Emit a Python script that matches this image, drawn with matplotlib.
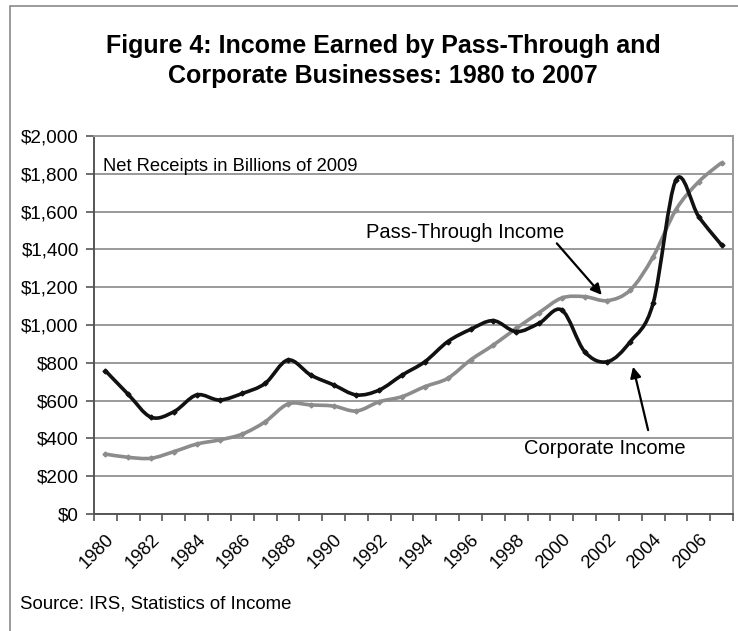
import numpy as np
import matplotlib
matplotlib.use('Agg')
import matplotlib.pyplot as plt
from matplotlib.path import Path
from matplotlib.patches import PathPatch, Rectangle

plt.rcParams['font.family'] = ['Liberation Sans', 'DejaVu Sans']

years = list(range(1980, 2008))
corporate = [758, 633, 512, 541, 630, 603, 638, 691, 815, 735, 683, 630, 656,
             735, 806, 912, 977, 1023, 965, 1009, 1079, 859, 806, 912, 1115,
             1767, 1573, 1423]
pass_through = [317, 300, 295, 330, 370, 392, 423, 488, 582, 577, 571, 545, 594,
                621, 674, 718, 815, 894, 982, 1065, 1143, 1150, 1129, 1185, 1361,
                1610, 1758, 1859]
tick_years = [str(y) for y in range(1980, 2007, 2)]
y_ticks = list(range(0, 2001, 200))


def smooth_path(xs, ys, k=1 / 6):
    # Catmull-Rom style cubic Bezier through every point (like a smoothed Excel line)
    xs = np.asarray(xs, float)
    ys = np.asarray(ys, float)
    verts = [(xs[0], ys[0])]
    codes = [Path.MOVETO]
    n = len(xs)
    for i in range(n - 1):
        p0 = i - 1 if i > 0 else i
        p3 = i + 2 if i + 2 < n else i + 1
        c1 = (xs[i] + (xs[i + 1] - xs[p0]) * k, ys[i] + (ys[i + 1] - ys[p0]) * k)
        c2 = (xs[i + 1] - (xs[p3] - xs[i]) * k, ys[i + 1] - (ys[p3] - ys[i]) * k)
        verts += [c1, c2, (xs[i + 1], ys[i + 1])]
        codes += [Path.CURVE4] * 3
    return Path(verts, codes)


fig = plt.figure(figsize=(7.38, 6.31), dpi=100)
fig.patch.set_facecolor('white')
fig.patches.append(Rectangle((10 / 738, -0.05), 1.2, 1.04, transform=fig.transFigure,
                             fill=False, edgecolor='#8a8a8a', lw=1.2))

ax = fig.add_axes([94 / 738, 117 / 631, 639 / 738, 378 / 631])
x = np.arange(len(years))

ax.set_xlim(-0.5, len(years) - 0.5)
ax.set_ylim(0, 2000)

for v in y_ticks:
    ax.axhline(v, color='#9a9a9a', lw=1.4, zorder=1)

ax.add_patch(PathPatch(smooth_path(x, pass_through), fill=False,
                       edgecolor='#8c8c8c', lw=2.6, zorder=3))
ax.plot(x, pass_through, linestyle='none', marker='D', ms=2.5, color='#8c8c8c', zorder=3)
ax.add_patch(PathPatch(smooth_path(x, corporate), fill=False,
                       edgecolor='#111111', lw=2.6, zorder=4))
ax.plot(x, corporate, linestyle='none', marker='D', ms=2.5, color='#111111', zorder=4)

ax.set_yticks(y_ticks)
ax.set_yticklabels(['${:,}'.format(v) for v in y_ticks], fontsize=13.6)
ax.set_xticks(x[::2])
ax.set_xticklabels(tick_years, rotation=45, ha='right', va='top', fontsize=13.2,
                   rotation_mode='anchor')
ax.set_xticks(np.arange(-0.5, len(years)), minor=True)
ax.tick_params(axis='x', which='major', length=0, pad=12)
ax.tick_params(axis='x', which='minor', length=5, width=1.2, color='#555555')
ax.tick_params(axis='y', length=6, width=1.2, color='#555555', pad=5)

for side in ['left', 'bottom']:
    ax.spines[side].set_color('#555555')
    ax.spines[side].set_linewidth(1.4)
for side in ['top', 'right']:
    ax.spines[side].set_color('#9a9a9a')
    ax.spines[side].set_linewidth(1.4)

ax.text(-0.12, 1838, 'Net Receipts in Billions of 2009', fontsize=13.2,
        va='center', ha='left', zorder=5)

# callout labels with their arrows
arrow_style = dict(arrowstyle='-|>', color='black', lw=1.6, mutation_scale=16,
                   shrinkA=0, shrinkB=0)
ax.text(15.76, 1487, 'Pass-Through Income', fontsize=14.5, ha='center', va='center')
ax.annotate('', xy=(21.75, 1159), xytext=(19.78, 1432), arrowprops=arrow_style)
ax.text(21.89, 349, 'Corporate Income', fontsize=14.5, ha='center', va='center')
ax.annotate('', xy=(23.12, 779), xytext=(23.78, 444), arrowprops=arrow_style)

fig.text(383 / 738, 1 - 46 / 631, 'Figure 4: Income Earned by Pass-Through and',
         ha='center', va='center', fontsize=18, fontweight='bold')
fig.text(383 / 738, 1 - 76 / 631, 'Corporate Businesses: 1980 to 2007',
         ha='center', va='center', fontsize=18, fontweight='bold')
fig.text(20 / 738, 1 - 604 / 631, 'Source: IRS, Statistics of Income',
         ha='left', va='center', fontsize=13.4)

fig.savefig('out.png', dpi=100)
